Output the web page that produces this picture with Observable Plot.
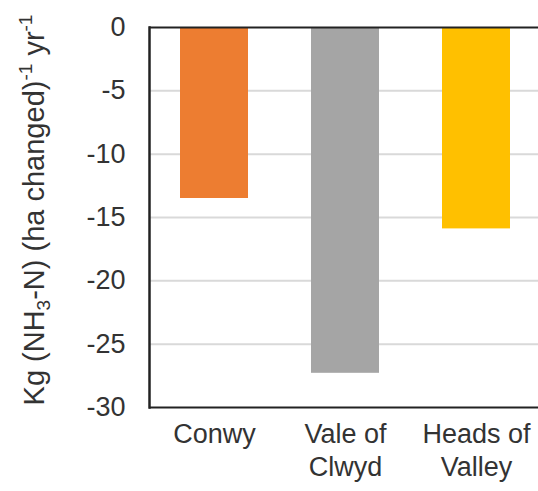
<!DOCTYPE html>
<html>
<head>
<meta charset="utf-8">
<script src="https://cdn.jsdelivr.net/npm/d3@7"></script>
<script src="https://cdn.jsdelivr.net/npm/@observablehq/plot@0.6"></script>
<style>
  html, body { margin: 0; padding: 0; background: #fff; overflow: hidden; }
  #chart svg { display: block; font-family: "Liberation Sans", Arial, sans-serif; }
</style>
</head>
<body>
<div id="chart"></div>
<script>
const regions = ["Conwy", "Vale of Clwyd", "Heads of Valley"];
const regionLabels = ["Conwy", "Vale of\nClwyd", "Heads of\nValley"];
const values = [-13.5, -27.3, -15.9];
const colors = ["#ED7D31", "#A5A5A5", "#FFC000"];
const yTicks = [0, -5, -10, -15, -20, -25, -30];
const gridTicks = [-5, -10, -15, -20, -25];

const data = regions.map((r, i) => ({region: r, value: values[i], color: colors[i]}));
const labelOf = new Map(regions.map((r, i) => [r, regionLabels[i]]));

const chart = Plot.plot({
  width: 538,
  height: 491,
  marginTop: 27,
  marginBottom: 84,
  marginLeft: 149,
  marginRight: -4,
  style: {fontFamily: "Liberation Sans, Arial, sans-serif", color: "#333", background: "#fff"},
  x: {domain: regions, paddingInner: 0.48, paddingOuter: 0.24, align: 0.5, axis: null},
  y: {domain: [-30, 0], ticks: yTicks, axis: null},
  marks: [
    Plot.ruleY(gridTicks, {stroke: "#d9d9d9", strokeWidth: 2}),
    Plot.barY(data, {x: "region", y: "value", fill: "color"}),
    Plot.ruleY([0, -30], {stroke: "#222", strokeWidth: 2}),
    Plot.axisY({ticks: yTicks, tickSize: 0, tickPadding: 24, fontSize: 27, label: null, fill: "#333",
      tickFormat: d => String(d)}),
    Plot.axisX({tickSize: 0, tickPadding: 12, fontSize: 27, lineHeight: 1.22, label: null,
      tickFormat: d => labelOf.get(d), fill: "#333"}),
    Plot.frame({anchor: "left", stroke: "#222", strokeWidth: 2.5})
  ]
});

document.getElementById("chart").appendChild(chart);

// Y-axis title with subscript / superscripts
const svg = d3.select(chart);
const t = svg.append("text")
  .attr("transform", "translate(44,210) rotate(-90)")
  .attr("text-anchor", "middle")
  .attr("font-size", 29)
  .attr("fill", "#333")
  .attr("font-family", "Liberation Sans, Arial, sans-serif");
t.append("tspan").text("Kg (NH");
t.append("tspan").attr("font-size", 19).attr("dy", 6).text("3");
t.append("tspan").attr("dy", -6).text("-N) (ha changed)");
t.append("tspan").attr("font-size", 19).attr("dy", -12).text("-1");
t.append("tspan").attr("dy", 12).text(" yr");
t.append("tspan").attr("font-size", 19).attr("dy", -12).text("-1");
</script>
</body>
</html>
